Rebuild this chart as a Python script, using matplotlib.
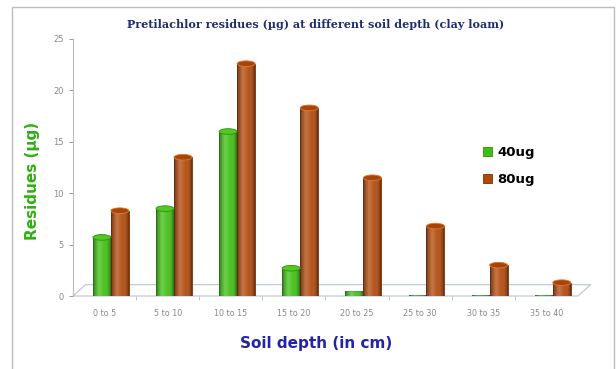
import matplotlib.pyplot as plt
import numpy as np
from matplotlib.colors import LinearSegmentedColormap
from matplotlib.patches import Ellipse, Polygon, Rectangle

# data
depths = ["0 to 5", "5 to 10", "10 to 15", "15 to 20",
          "20 to 25", "25 to 30", "30 to 35", "35 to 40"]
res_40ug = [5.7, 8.5, 16.0, 2.7, 0.5, 0.1, 0.1, 0.1]
res_80ug = [8.3, 13.5, 22.6, 18.3, 11.5, 6.8, 3.0, 1.3]
series_names = ["40ug", "80ug"]
yticks = [0, 5, 10, 15, 20, 25]

GREEN = "#3fbf12"
BROWN = "#b0480a"


def _cylinder_shade(ax, bars, cap_color, edge):
    """Overlay a horizontal gradient and a top cap on each bar to fake a cylinder."""
    cmap = LinearSegmentedColormap.from_list(
        "cyl", ["#00000055", "#ffffff40", "#ffffff10", "#00000060"]
    )
    grad = np.linspace(0, 1, 64).reshape(1, -1)
    for b in bars:
        x0, y0 = b.get_x(), b.get_y()
        w, h = b.get_width(), b.get_height()
        if h <= 0:
            continue
        im = ax.imshow(grad, cmap=cmap, extent=[x0, x0 + w, y0, y0 + h],
                       aspect="auto", zorder=b.get_zorder() + 0.1,
                       interpolation="bilinear")
        im.set_clip_path(b)
        if h > 0.5:
            ax.add_patch(Ellipse((x0 + w / 2, y0 + h), w, 0.55,
                                 facecolor=cap_color, edgecolor=edge,
                                 linewidth=0.6, zorder=b.get_zorder() + 0.2))


fig = plt.figure(figsize=(6.16, 3.69), dpi=100)
ax = fig.add_axes([73 / 616, 1 - 296 / 369, (578 - 73) / 616, (296 - 39) / 369])

x = np.arange(len(depths))
w = 0.285
shift = 0.1
b1 = ax.bar(x + shift - w / 2, res_40ug, w, color=GREEN, edgecolor="#2f8f0c",
            linewidth=0.6, zorder=3, label=series_names[0])
b2 = ax.bar(x + shift + w / 2, res_80ug, w, color=BROWN, edgecolor="#7a3006",
            linewidth=0.6, zorder=3, label=series_names[1])
_cylinder_shade(ax, b1, "#52c824", "#2f8f0c")
_cylinder_shade(ax, b2, "#a8440a", "#e07a2a")

ax.set_xlim(-0.5, 7.5)
ax.set_ylim(0, 25)
ax.set_yticks(yticks)
ax.set_xticks(x)
ax.set_xticklabels(depths)
ax.set_xticks(np.arange(0.5, 7.5, 1.0), minor=True)

# 3D-ish floor outline
dx, dy = 0.2, 1.1
floor = Polygon([(-0.5, 0), (7.5, 0), (7.5 + dx, dy), (-0.5 + dx, dy)],
                closed=True, fill=False, edgecolor="#b8c4d4", linewidth=0.8,
                clip_on=False, zorder=2)
ax.add_patch(floor)

for side in ["top", "right", "bottom"]:
    ax.spines[side].set_visible(False)
ax.spines["left"].set_color("#bbbbbb")
ax.spines["left"].set_linewidth(0.8)

ax.tick_params(axis="y", labelsize=6, colors="#888888", length=3, width=0.6)
ax.tick_params(axis="x", which="major", labelsize=5.8, colors="#888888",
               length=0, pad=9)
ax.tick_params(axis="x", which="minor", length=3, width=0.6, color="#bbbbbb")

ax.set_ylabel("Residues (µg)", color="#2fb010", fontsize=11, fontweight="bold")
ax.yaxis.set_label_coords(-0.066, 0.447)
ax.set_xlabel("Soil depth (in cm)", color="#2323a8", fontsize=11,
              fontweight="bold")
ax.xaxis.set_label_coords(0.481, -0.156)

fig.text(0.513, 1 - 24 / 369,
         "Pretilachlor residues (µg) at different soil depth (clay loam)",
         ha="center", va="center", fontsize=8, fontweight="heavy",
         family="DejaVu Serif", color="#1d2d6e")

leg = ax.legend(loc="upper left", bbox_to_anchor=(471 / 616, 1 - 134 / 369),
                bbox_transform=fig.transFigure, frameon=False,
                handlelength=0.7, handleheight=0.7, handletextpad=0.4,
                labelspacing=1.1, prop={"weight": "bold", "size": 9.5})

# outer chart frame
fig.patches.append(Rectangle((12 / 616, -0.01), (614 - 12) / 616, 1 - 7 / 369 + 0.01,
                             transform=fig.transFigure, fill=False,
                             edgecolor="#bdbdbd", linewidth=1.0))

fig.savefig("out.png", dpi=100)
